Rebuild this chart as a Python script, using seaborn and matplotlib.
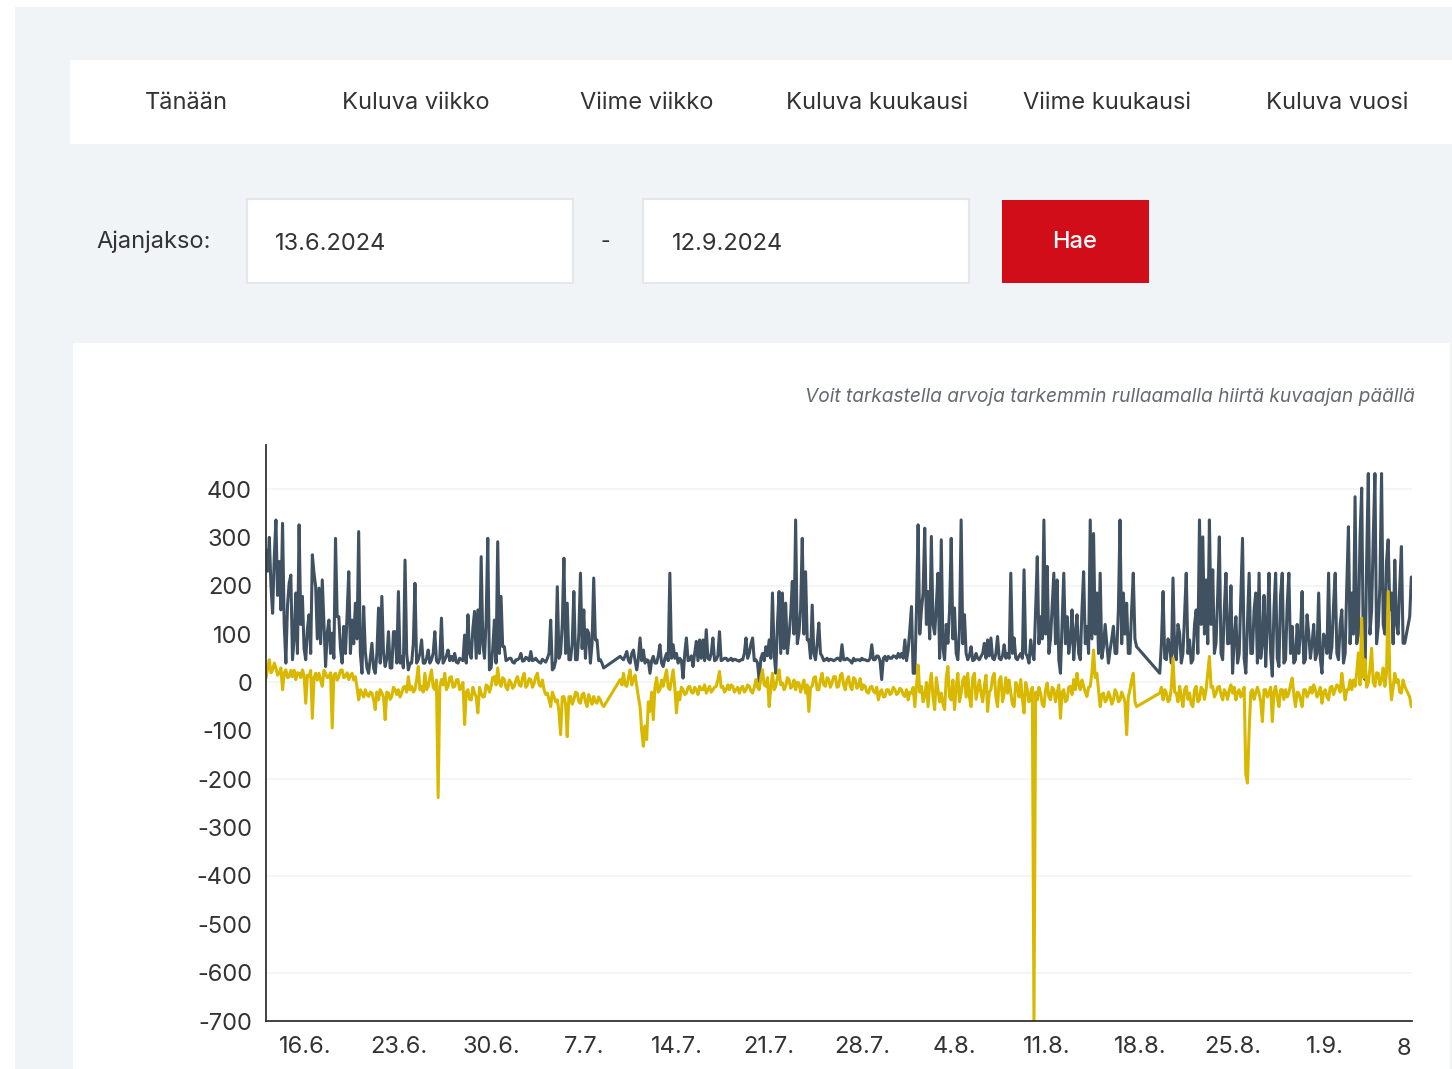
import pandas as pd
import matplotlib
matplotlib.use("Agg")
import matplotlib.pyplot as plt
from matplotlib.patches import Rectangle
from matplotlib.transforms import Bbox
import seaborn as sns

# readings every 3 h from 13.6.2024 00:00, one line = one day, None = no data
series_dark = [
    274, 230, 300, 200, 143, 260, 336, 180,
    250, 150, 329, 120, 40, 160, 205, 222,
    47, 90, 185, 60, 326, 120, 178, 70,
    47, 110, 140, 60, 264, 226, 198, 90,
    195, 80, 212, 120, 33, 102, 129, 60,
    102, 50, 298, 136, 136, 70, 40, 116,
    60, 140, 229, 60, 129, 80, 164, 90,
    312, 60, 19, 157, 64, 30, 19, 50,
    81, 30, 19, 60, 154, 40, 178, 60,
    33, 50, 105, 30, 30, 105, 105, 40,
    188, 40, 54, 30, 253, 60, 26, 40,
    40, 80, 205, 40, 47, 60, 88, 40,
    40, 50, 67, 40, 47, 60, 105, 45,
    40, 50, 133, 40, 47, 55, 67, 45,
    54, 45, 60, 42, 40, 50, 47, 45,
    98, 40, 140, 60, 50, 112, 147, 50,
    150, 60, 260, 80, 50, 129, 298, 26,
    30, 70, 129, 40, 291, 60, 178, 74,
    74, 45, 47, 50, 50, 42, 40, 47,
    47, 50, 60, 44, 45, 52, 50, 45,
    64, 45, 47, 50, 45, 42, 40, 48,
    45, 42, 50, 60, 129, 26, 30, 45,
    198, 50, 60, 120, 257, 60, 164, 47,
    47, 80, 188, 47, 47, 100, 226, 70,
    150, 50, 109, 102, 40, 80, 216, 88,
    88, 45, 47, 40, 30, None, None, None,
    None, None, None, None, None, None, 54, 50,
    47, 55, 64, 45, 40, 60, 67, 45,
    26, 50, 92, 45, 67, 40, 47, 45,
    19, 45, 54, 40, 40, 55, 78, 40,
    33, 50, 60, 45, 226, 50, 78, 50,
    60, 40, 50, 45, 9, 60, 92, 45,
    47, 55, 33, 60, 85, 45, 88, 50,
    88, 45, 109, 50, 47, 60, 92, 45,
    47, 55, 105, 45, 47, 50, 50, 45,
    47, 50, 45, 48, 47, 45, 44, 47,
    47, 60, 92, 50, 60, 80, 92, 45,
    47, 40, 2, 50, 60, 45, 74, 55,
    88, 50, 185, 60, 19, 120, 188, 60,
    185, 70, 164, 60, 95, 140, 209, 100,
    336, 80, 102, 150, 298, 100, 229, 88,
    88, 50, 160, 60, 47, 80, 123, 60,
    54, 45, 47, 50, 45, 48, 47, 45,
    47, 50, 50, 45, 78, 47, 47, 50,
    47, 45, 40, 50, 45, 47, 47, 45,
    50, 47, 47, 45, 45, 50, 78, 47,
    47, 55, 54, 45, 6, 50, 54, 45,
    54, 50, 50, 55, 54, 50, 60, 52,
    60, 50, 88, 45, 67, 110, 157, 19,
    19, 150, 326, 100, 150, 185, 319, 120,
    188, 90, 302, 120, 100, 160, 226, 50,
    295, 70, 47, 120, 81, 150, 298, 90,
    154, 60, 47, 110, 336, 80, 140, 60,
    47, 55, 74, 45, 47, 60, 50, 47,
    54, 60, 81, 50, 88, 55, 92, 50,
    47, 60, 95, 50, 47, 55, 78, 50,
    60, 50, 226, 60, 92, 50, 47, 55,
    60, 50, 233, 60, 54, 40, 88, 60,
    47, 150, 260, 80, 136, 90, 336, 100,
    240, 60, 90, 160, 226, 80, 212, 47,
    19, 120, 226, 80, 136, 60, 88, 150,
    47, 100, 140, 60, 47, 150, 229, 80,
    116, 60, 336, 90, 308, 100, 185, 60,
    226, 50, 74, 120, 81, 40, 67, 90,
    116, 60, 60, 150, 336, 80, 185, 100,
    164, 60, 60, 150, 226, 90, 74, None,
    None, None, None, None, None, None, None, None,
    None, None, None, None, 19, 80, 188, 50,
    47, 90, 74, 40, 216, 60, 47, 120,
    102, 40, 60, 140, 226, 60, 88, 40,
    47, 120, 150, 60, 336, 120, 301, 100,
    212, 80, 336, 120, 233, 60, 81, 180,
    301, 60, 47, 150, 226, 80, 81, 200,
    19, 90, 136, 40, 60, 180, 298, 50,
    19, 120, 226, 60, 60, 150, 185, 40,
    226, 50, 80, 180, 33, 120, 226, 60,
    13, 150, 226, 50, 33, 180, 226, 40,
    47, 160, 226, 60, 116, 40, 47, 120,
    60, 100, 188, 40, 47, 140, 102, 50,
    80, 120, 47, 60, 185, 50, 19, 100,
    90, 60, 226, 50, 74, 160, 226, 60,
    47, 120, 150, 40, 60, 200, 322, 80,
    185, 100, 384, 80, 100, 300, 402, 60,
    6, 250, 432, 100, 150, 300, 432, 80,
    116, 200, 432, 120, 100, 250, 295, 150,
    185, 80, 253, 120, 100, 200, 281, 81,
    81, None, None, 136, 218,
]

series_yellow = [
    9, 30, 47, 20, 26, 40, 30, 15,
    19, 30, -15, 20, 26, 10, 12, 25,
    12, 25, 6, 20, 19, 10, 26, 15,
    -43, 15, 12, 25, -74, 10, 19, 5,
    19, 5, -8, 25, 19, 10, 12, 20,
    -94, 15, 19, 5, 12, 25, 26, 10,
    12, 20, 6, 15, 19, 5, 12, -10,
    -36, -15, -22, -30, -15, -25, -29, -20,
    -22, -35, -56, -20, -36, -15, -22, -30,
    -77, -20, -22, -35, -29, -10, -15, -25,
    -15, -30, -22, -10, -8, -20, 12, -15,
    -8, -20, -15, 5, 33, -15, -8, -20,
    19, -15, -8, 10, 26, -10, -15, 5,
    -238, -10, 6, -5, 19, -15, -8, 10,
    12, -10, -8, 5, 6, -15, -10, 0,
    -87, -20, -15, -35, -36, -10, -22, -30,
    -63, -10, -22, -30, -29, -5, -8, -20,
    -8, 10, 12, -5, 30, 0, -8, 10,
    6, -10, -15, 5, 0, -12, -8, 5,
    12, -5, -8, 10, 19, -10, -4, 8,
    6, -10, -2, 12, 19, -5, -8, 5,
    -15, -25, -22, -35, -50, -20, -29, -40,
    -36, -60, -108, -30, -29, -45, -112, -30,
    -29, -45, -36, -20, -22, -40, -43, -25,
    -22, -40, -50, -25, -36, -45, -29, -40,
    -43, -30, -36, -45, -50, None, None, None,
    None, None, None, None, None, None, 6, -5,
    19, -5, -8, 10, 26, -5, 6, 15,
    -8, -30, -50, -100, -132, -90, -118, -40,
    -60, -20, -77, -10, 10, -20, -15, 5,
    -8, 10, 26, -10, -15, 5, 26, -10,
    -63, -20, -36, -10, -15, -25, -22, -10,
    -8, -20, -22, -10, -15, -25, -8, -15,
    -15, -5, -22, -15, -8, -20, -15, -10,
    -8, 5, 23, -10, -8, -20, -15, -5,
    -15, -5, -8, -20, -15, -10, -22, -12,
    -8, -20, -15, -5, -8, -18, -22, -10,
    6, -10, -15, 10, 26, -5, -8, 10,
    -50, -10, 19, -15, -8, 10, 26, -5,
    -1, -15, -8, 10, 6, -12, -8, 5,
    -15, 0, -1, -20, -8, 5, -22, -5,
    -60, -10, -8, 10, 12, -15, -15, 5,
    19, -5, -8, 10, 6, -10, -1, 12,
    12, -10, -8, 15, 19, -5, -15, 5,
    12, -8, -15, 10, 6, -12, -8, 8,
    -15, -5, -8, -20, -22, -10, -8, -18,
    -22, -10, -36, -20, -15, -30, -29, -15,
    -15, -25, -22, -10, -15, -25, -22, -12,
    -15, -25, -29, -15, -36, -20, -22, -10,
    -50, -10, 36, -20, -8, -40, -29, 0,
    -50, -5, 19, -30, -56, 10, -15, -40,
    -22, -45, -56, 10, 33, -30, -36, 5,
    -56, -10, 19, -40, -22, 5, 12, -30,
    19, -30, -50, 10, 19, -35, -15, 5,
    -22, -40, -8, 15, -60, -20, -15, 10,
    19, -30, -50, 5, 12, -40, -22, 10,
    -22, 5, -22, -45, -50, 0, -8, -30,
    6, -35, -63, 0, -15, -40, -22, -10,
    -700, -20, -36, -10, -22, -45, -50, -15,
    -1, -30, -36, -10, -15, -40, -22, -5,
    -74, -20, -15, -40, -36, -10, -8, -25,
    6, -15, 19, -5, -15, 5, -8, -20,
    -29, -10, -8, 20, 67, 10, 19, -15,
    -50, -25, -22, -40, -36, -20, -29, -45,
    -36, -15, -22, -40, -36, -20, -29, -40,
    -108, -30, -15, 5, 19, -40, -50, None,
    None, None, None, None, None, None, None, None,
    None, None, None, None, -22, -10, -36, -15,
    -22, -40, -36, -10, 50, -20, -22, -40,
    -8, -30, -50, -15, -8, -35, -22, -45,
    -50, -15, -8, -40, -36, -10, -15, -35,
    -15, 20, 54, -10, -8, -30, -22, -10,
    -8, -25, -36, -15, -22, -35, -15, -5,
    -22, -10, -36, -20, -15, -30, -22, -10,
    -190, -208, -100, -20, -15, -35, -22, -10,
    -22, -40, -81, -15, -15, -30, -22, -10,
    -81, -20, -8, -30, -50, -15, -15, -35,
    -15, -30, -22, -5, 9, -25, -50, -20,
    -22, -35, -50, -15, -15, -30, -22, -10,
    -22, -5, -15, -30, -22, -10, -43, -20,
    -15, -30, -36, -10, -8, -25, -15, -5,
    -8, -20, 19, -10, -36, -15, -15, 5,
    -15, 5, -8, 20, 61, -5, 133, 10,
    47, -10, -1, 30, 71, 0, -8, 20,
    19, -5, 6, 30, -8, 20, 188, 10,
    -36, -10, 19, 0, 6, -20, -22, 5,
    -8, None, None, -30, -50,
]

tabs = ["Tänään", "Kuluva viikko", "Viime viikko", "Kuluva kuukausi", "Viime kuukausi", "Kuluva vuosi"]
date_from = "13.6.2024"
date_to = "12.9.2024"
y_ticks = [400, 300, 200, 100, 0, -100, -200, -300, -400, -500, -600, -700]
x_tick_dates = ["2024-06-16", "2024-06-23", "2024-06-30", "2024-07-07", "2024-07-14", "2024-07-21",
                "2024-07-28", "2024-08-04", "2024-08-11", "2024-08-18", "2024-08-25", "2024-09-01"]
x_tick_labels = ["16.6.", "23.6.", "30.6.", "7.7.", "14.7.", "21.7.", "28.7.", "4.8.", "11.8.", "18.8.", "25.8.", "1.9."]

dates = pd.date_range("2024-06-13 00:00", periods=len(series_dark), freq="3h")
df = pd.DataFrame({"aika": dates, "tumma": series_dark, "keltainen": series_yellow}).astype({"tumma": float, "keltainen": float})

sns.set_style("white")
plt.rcParams["font.family"] = ["Inter", "DejaVu Sans"]

W, H = 1452, 1069
fig = plt.figure(figsize=(W / 100, H / 100), dpi=100)
fig.patch.set_facecolor("white")


def box(x0, y0, x1, y1, fc, ec=None, lw=0):
    fig.patches.append(Rectangle((x0 / W, 1 - y1 / H), (x1 - x0) / W, (y1 - y0) / H,
                                 transform=fig.transFigure, facecolor=fc,
                                 edgecolor=ec if ec else fc, linewidth=lw, zorder=-5))


def label(x, y, s, **kw):
    fig.text(x / W, 1 - y / H, s, va="center", **kw)


# page background and panels
box(15, 7, W, H, "#f1f4f7")
box(70, 60, W, 144, "white")
for i, t in enumerate(tabs):
    label(186 + i * 230.2, 103, t, ha="center", fontsize=17, color="#333333")

label(96, 242, "Ajanjakso:", ha="left", fontsize=17, color="#333333")
box(247, 199, 573, 283, "white", "#e3e6ea", 1.5)
label(275, 244, date_from, ha="left", fontsize=17, color="#333333")
label(605, 242, "-", ha="center", fontsize=15, color="#333333")
box(643, 199, 969, 283, "white", "#e3e6ea", 1.5)
label(672, 244, date_to, ha="left", fontsize=17, color="#333333")
box(1002, 200, 1149, 283, "#d10d19")
label(1075, 242, "Hae", ha="center", fontsize=17, color="white", fontweight="medium")

box(73, 343, 1450, H, "white")
label(1415, 397, "Voit tarkastella arvoja tarkemmin rullaamalla hiirtä kuvaajan päällä",
      ha="right", fontsize=13.8, color="#666a70", style="italic")

# chart
ax = fig.add_axes([266 / W, 1 - 1021 / H, (1412 - 266) / W, (1021 - 445) / H])
ax.set_facecolor("white")
for g in [400, 200, 0, -200, -400, -600]:
    ax.axhline(g, color="#f1f3f6", linewidth=1.2, zorder=0)

sns.lineplot(data=df.dropna(subset=["tumma"]), x="aika", y="tumma", ax=ax,
             color="#405261", linewidth=2.2, estimator=None, sort=True)
sns.lineplot(data=df.dropna(subset=["keltainen"]), x="aika", y="keltainen", ax=ax,
             color="#d9b800", linewidth=2.2, estimator=None, sort=True)

ax.set_xlim(pd.Timestamp("2024-06-13 00:00"), pd.Timestamp("2024-09-07 13:12"))
ax.set_ylim(-700, 491)
ax.set_yticks(y_ticks)
ax.set_yticklabels([str(v) for v in y_ticks])
ax.set_xticks(pd.to_datetime(x_tick_dates))
ax.set_xticklabels(x_tick_labels)
ax.set_xlabel("")
ax.set_ylabel("")

for side in ["top", "right"]:
    ax.spines[side].set_visible(False)
for side in ["left", "bottom"]:
    ax.spines[side].set_color("#333333")
    ax.spines[side].set_linewidth(1.3)
ax.tick_params(axis="both", direction="out", length=5, width=1.3, color="#333333",
               labelsize=17, labelcolor="#333333")
ax.tick_params(axis="y", pad=5)
ax.tick_params(axis="x", pad=6)

# last tick label is cut by the chart edge
t = ax.text(pd.Timestamp("2024-09-08"), -0.03, "8.9.", ha="center", va="top", fontsize=17,
            color="#333333", transform=ax.get_xaxis_transform())
t.set_clip_box(Bbox([[0, 0], [1412, H]]))
t.set_clip_on(True)

fig.savefig("out.png", dpi=100, facecolor=fig.get_facecolor())
